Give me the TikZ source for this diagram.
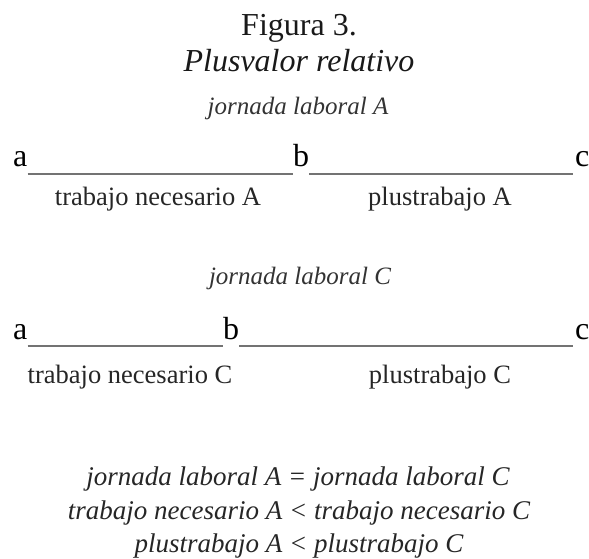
\documentclass[tikz,border=0pt]{standalone}
\usepackage{fontspec}
\setmainfont{Liberation Serif}
\tikzset{
  x=1pt, y=1pt,
  txt/.style={inner sep=0pt, anchor=base, text=black!90},
  titlefont/.style={txt, font=\fontsize{32}{36}\selectfont},
  titleit/.style={txt, font=\fontsize{32}{36}\selectfont\itshape},
  subit/.style={txt, font=\fontsize{25}{28}\selectfont\itshape, text=black!80},
  letter/.style={inner sep=0pt, anchor=base west, font=\fontsize{32}{36}\selectfont},
  part/.style={txt, font=\fontsize{26.5}{30}\selectfont, text=black!85},
  eqline/.style={txt, font=\fontsize{27}{30}\selectfont\itshape, text=black!85},
  seg/.style={draw=black!55, line width=2.6pt}
}
\begin{document}
\begin{tikzpicture}
\useasboundingbox (0,0) rectangle (589,-559);
% title
\node[titlefont] (fig) at (299,-36) {Figura 3.};
\node[titleit] (tit) at (299,-72) {Plusvalor relativo};
% jornada A
\node[subit] (jA) at (298,-115) {jornada laboral A};
\node[letter] (aA) at (13,-167) {a};
\node[letter] (bA) at (293,-167) {b};
\node[letter] (cA) at (575,-167) {c};
\draw[seg] ([yshift=-7pt]aA.base east) -- ([yshift=-7pt]bA.base west);
\draw[seg] ([yshift=-7pt]bA.base east) -- ([yshift=-7pt,xshift=-2pt]cA.base west);
\node[part] (tnA) at (158,-205) {trabajo necesario A};
\node[part] (ptA) at (440,-205) {plustrabajo A};
% jornada C
\node[subit] (jC) at (300,-284) {jornada laboral C};
\node[letter] (aC) at (13,-339) {a};
\node[letter] (bC) at (223,-339) {b};
\node[letter] (cC) at (575,-339) {c};
\draw[seg] ([yshift=-7pt]aC.base east) -- ([yshift=-7pt]bC.base west);
\draw[seg] ([yshift=-7pt]bC.base east) -- ([yshift=-7pt,xshift=-2pt]cC.base west);
\node[part] (tnC) at (130,-383) {trabajo necesario C};
\node[part] (ptC) at (440,-383) {plustrabajo C};
% conclusions
\node[eqline] (e1) at (298,-485) {jornada laboral A = jornada laboral C};
\node[eqline] (e2) at (299,-519) {trabajo necesario A < trabajo necesario C};
\node[eqline] (e3) at (299,-552) {plustrabajo A < plustrabajo C};
\end{tikzpicture}
\end{document}
